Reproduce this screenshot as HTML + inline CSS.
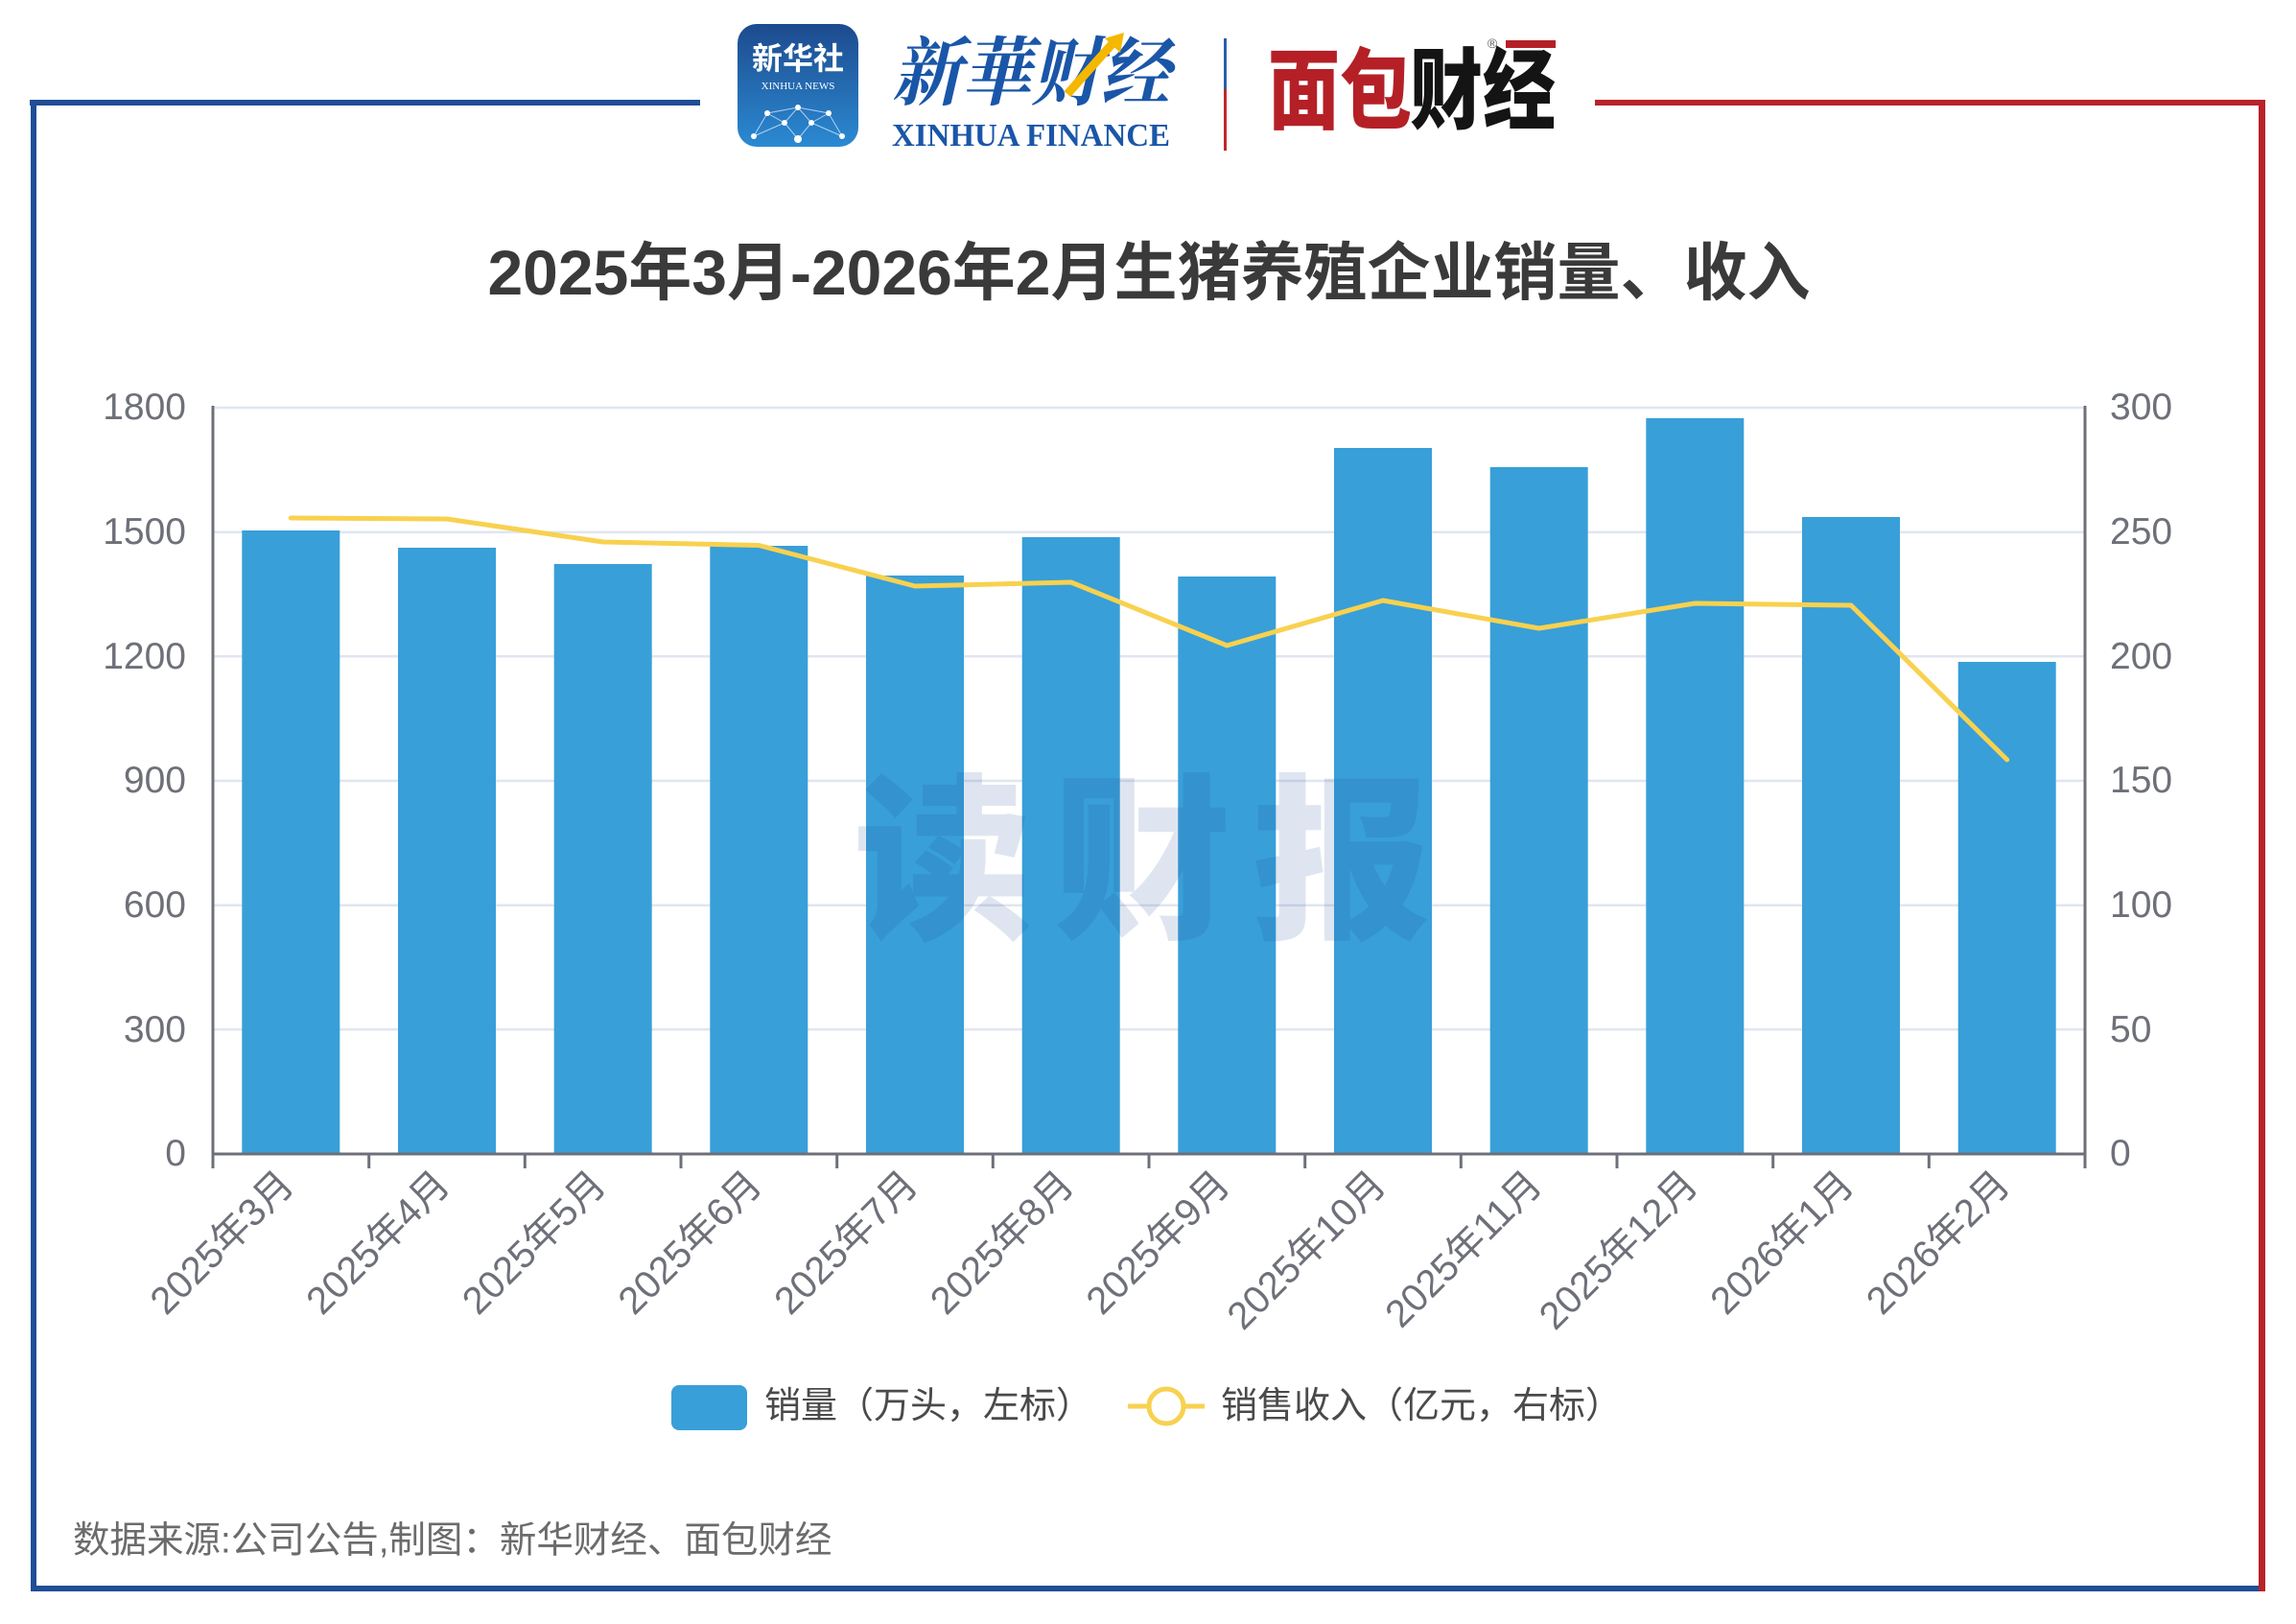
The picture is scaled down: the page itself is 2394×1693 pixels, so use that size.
<!DOCTYPE html>
<html><head><meta charset="utf-8"><style>
html,body{margin:0;padding:0;background:#fff;}
svg{display:block;}
text{font-family:"Liberation Sans","Noto Sans CJK SC",sans-serif;}
</style></head><body>
<svg width="2394" height="1693" viewBox="0 0 2394 1693" xmlns="http://www.w3.org/2000/svg">
<defs>
<linearGradient id="xg" x1="0" y1="0" x2="0" y2="1"><stop offset="0" stop-color="#1d4a8e"/><stop offset="1" stop-color="#2b8ad2"/></linearGradient>
</defs>
<rect width="2394" height="1693" fill="#fff"/>
<!-- frame -->
<rect x="31" y="104" width="699" height="6" fill="#1f4e96"/>
<rect x="32" y="104" width="6" height="1555" fill="#1f4e96"/>
<rect x="32" y="1653" width="2330" height="6" fill="#1f4e96"/>
<rect x="1663" y="104" width="699" height="6" fill="#b8232b"/>
<rect x="2355" y="104" width="7" height="1555" fill="#b8232b"/>

<!-- logos -->
<rect x="769" y="25" width="126" height="128" rx="20" fill="url(#xg)"/>
<text x="832" y="72" text-anchor="middle" font-size="32" font-weight="700" fill="#fff" style="font-family:'Noto Sans CJK SC',sans-serif">新华社</text>
<text x="832" y="93" text-anchor="middle" font-size="11" fill="#fff" style="font-family:'Liberation Serif',serif">XINHUA NEWS</text>
<g stroke="#cfe6ff" stroke-width="1" fill="none" opacity="0.8">
<path d="M786 142 L800 118 L832 112 L864 118 L878 142 M800 118 L818 128 L832 112 L846 128 L864 118 M818 128 L832 145 L846 128 M786 142 L818 128 M878 142 L846 128"/>
</g>
<g fill="#fff"><circle cx="800" cy="118" r="3"/><circle cx="832" cy="112" r="3"/><circle cx="864" cy="118" r="3"/><circle cx="818" cy="128" r="3"/><circle cx="846" cy="128" r="3"/><circle cx="832" cy="145" r="4"/><circle cx="786" cy="142" r="3"/><circle cx="878" cy="142" r="3"/></g>
<text x="930" y="103" font-size="78" font-weight="700" fill="#1a56a8" textLength="290" lengthAdjust="spacingAndGlyphs" style="font-family:'Noto Serif CJK SC',serif;font-style:italic">新華财经</text>
<path d="M1113 98 L1163 42" stroke="#f5b800" stroke-width="9"/>
<path d="M1152 40 L1172 34 L1168 55 Z" fill="#f5b800"/>
<text x="930" y="152" font-size="34" font-weight="700" fill="#1a56a8" textLength="290" lengthAdjust="spacingAndGlyphs" style="font-family:'Liberation Serif',serif">XINHUA FINANCE</text>
<rect x="1276" y="40" width="3" height="53" fill="#2a5fa8"/>
<rect x="1276" y="93" width="3" height="64" fill="#c0282f"/>
<text x="1322" y="127" font-size="92" font-weight="900" fill="#b52027" textLength="150" lengthAdjust="spacingAndGlyphs" style="font-family:'Noto Sans CJK SC',sans-serif">面包</text>
<text x="1470" y="127" font-size="92" font-weight="900" fill="#141414" textLength="152" lengthAdjust="spacingAndGlyphs" style="font-family:'Noto Sans CJK SC',sans-serif">财经</text>
<rect x="1570" y="42" width="52" height="8" fill="#b52027"/>
<text x="1556" y="50" font-size="14" fill="#666" text-anchor="middle">®</text>

<!-- title -->
<text x="1198" y="284" text-anchor="middle" dominant-baseline="central" font-size="66" font-weight="700" fill="#3a3a3a">2025年3月-2026年2月生猪养殖企业销量、收入</text>

<!-- grid -->
<g stroke="#e0e6f1" stroke-width="2.5">
<line x1="222" y1="425" x2="2174" y2="425"/>
<line x1="222" y1="554.7" x2="2174" y2="554.7"/>
<line x1="222" y1="684.3" x2="2174" y2="684.3"/>
<line x1="222" y1="814" x2="2174" y2="814"/>
<line x1="222" y1="943.7" x2="2174" y2="943.7"/>
<line x1="222" y1="1073.3" x2="2174" y2="1073.3"/>
</g>

<!-- bars -->
<g fill="#389fd8">
<rect x="252.3" y="553" width="102" height="650"/>
<rect x="415" y="571" width="102" height="632"/>
<rect x="577.7" y="588" width="102" height="615"/>
<rect x="740.3" y="569" width="102" height="634"/>
<rect x="903" y="600" width="102" height="603"/>
<rect x="1065.7" y="560" width="102" height="643"/>
<rect x="1228.3" y="601" width="102" height="602"/>
<rect x="1391" y="467" width="102" height="736"/>
<rect x="1553.7" y="487" width="102" height="716"/>
<rect x="1716.3" y="436" width="102" height="767"/>
<rect x="1879" y="539" width="102" height="664"/>
<rect x="2041.7" y="690" width="102" height="513"/>
</g>

<!-- watermark -->
<text x="1202" y="883" text-anchor="middle" dominant-baseline="central" font-size="186" font-weight="900" letter-spacing="22" fill="rgba(30,70,150,0.14)" style="font-family:'Noto Sans CJK SC',sans-serif">读财报</text>

<!-- line -->
<polyline fill="none" stroke="#f8d14f" stroke-width="5" stroke-linejoin="round" stroke-linecap="round"
points="303.3,540 466,541 628.7,565 791.3,568.5 954,611 1116.7,607 1279.3,673 1442,626 1604.7,655 1767.3,629 1930,631 2092.7,792"/>

<!-- axes -->
<g stroke="#6e7079" stroke-width="3">
<line x1="222" y1="423" x2="222" y2="1203"/>
<line x1="2174" y1="423" x2="2174" y2="1203"/>
<line x1="222" y1="1203" x2="2174" y2="1203"/>
<line x1="222" y1="1203" x2="222" y2="1218"/>
<line x1="384.7" y1="1203" x2="384.7" y2="1218"/>
<line x1="547.3" y1="1203" x2="547.3" y2="1218"/>
<line x1="710" y1="1203" x2="710" y2="1218"/>
<line x1="872.7" y1="1203" x2="872.7" y2="1218"/>
<line x1="1035.3" y1="1203" x2="1035.3" y2="1218"/>
<line x1="1198" y1="1203" x2="1198" y2="1218"/>
<line x1="1360.7" y1="1203" x2="1360.7" y2="1218"/>
<line x1="1523.3" y1="1203" x2="1523.3" y2="1218"/>
<line x1="1686" y1="1203" x2="1686" y2="1218"/>
<line x1="1848.7" y1="1203" x2="1848.7" y2="1218"/>
<line x1="2011.3" y1="1203" x2="2011.3" y2="1218"/>
<line x1="2174" y1="1203" x2="2174" y2="1218"/>
</g>

<!-- y labels -->
<g font-size="39" fill="#6e7079" text-anchor="end">
<text x="194" y="437">1800</text>
<text x="194" y="567">1500</text>
<text x="194" y="697">1200</text>
<text x="194" y="826">900</text>
<text x="194" y="956">600</text>
<text x="194" y="1086">300</text>
<text x="194" y="1215">0</text>
</g>
<g font-size="39" fill="#6e7079" text-anchor="start">
<text x="2200" y="437">300</text>
<text x="2200" y="567">250</text>
<text x="2200" y="697">200</text>
<text x="2200" y="826">150</text>
<text x="2200" y="956">100</text>
<text x="2200" y="1086">50</text>
<text x="2200" y="1215">0</text>
</g>

<!-- x labels -->
<g font-size="40" fill="#6e7079" text-anchor="end" dominant-baseline="central">
<text x="299.3" y="1228" transform="rotate(-45 299.3 1228)">2025年3月</text>
<text x="462" y="1228" transform="rotate(-45 462 1228)">2025年4月</text>
<text x="624.7" y="1228" transform="rotate(-45 624.7 1228)">2025年5月</text>
<text x="787.3" y="1228" transform="rotate(-45 787.3 1228)">2025年6月</text>
<text x="950" y="1228" transform="rotate(-45 950 1228)">2025年7月</text>
<text x="1112.7" y="1228" transform="rotate(-45 1112.7 1228)">2025年8月</text>
<text x="1275.3" y="1228" transform="rotate(-45 1275.3 1228)">2025年9月</text>
<text x="1438" y="1228" transform="rotate(-45 1438 1228)">2025年10月</text>
<text x="1600.7" y="1228" transform="rotate(-45 1600.7 1228)">2025年11月</text>
<text x="1763.3" y="1228" transform="rotate(-45 1763.3 1228)">2025年12月</text>
<text x="1926" y="1228" transform="rotate(-45 1926 1228)">2026年1月</text>
<text x="2088.7" y="1228" transform="rotate(-45 2088.7 1228)">2026年2月</text>
</g>

<!-- legend -->
<rect x="700" y="1444" width="79" height="47" rx="8" fill="#389fd8"/>
<text x="797" y="1466" dominant-baseline="central" font-size="38" fill="#4a4a4a">销量（万头，左标）</text>
<line x1="1176" y1="1466" x2="1256" y2="1466" stroke="#f8d14f" stroke-width="5"/>
<circle cx="1216" cy="1466" r="18" fill="#fff" stroke="#f8d14f" stroke-width="5"/>
<text x="1273" y="1466" dominant-baseline="central" font-size="38" fill="#4a4a4a">销售收入（亿元，右标）</text>

<!-- footer -->
<text x="76" y="1606" dominant-baseline="central" font-size="38.5" fill="#6b6b6b">数据来源:公司公告,制图：新华财经、面包财经</text>
</svg>
</body></html>
